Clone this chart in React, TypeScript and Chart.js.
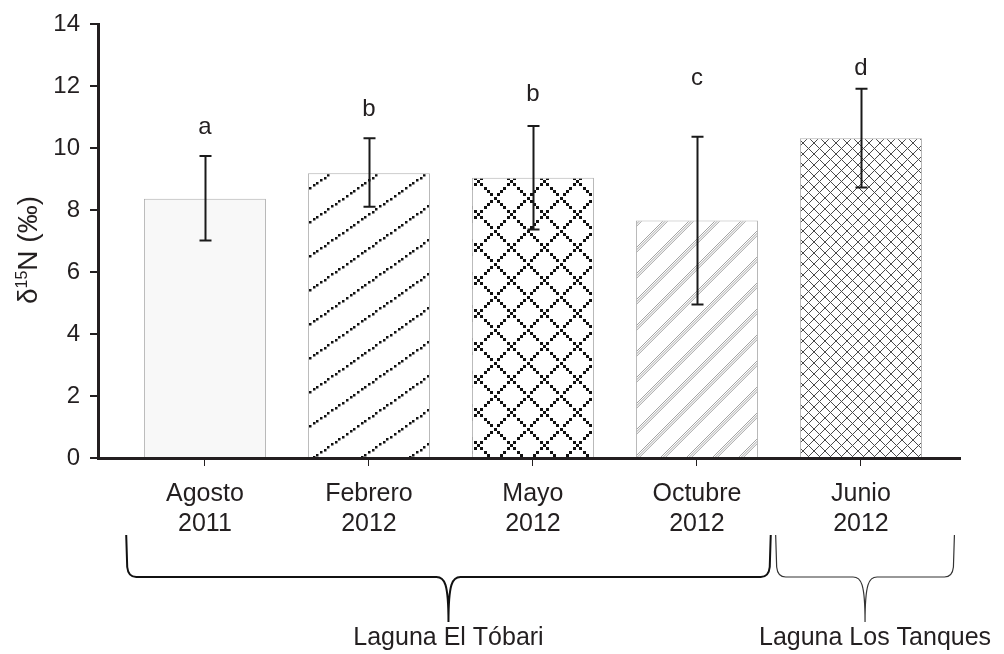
import React, { useEffect, useRef } from "react";
import { Chart, registerables } from "chart.js";

Chart.register(...registerables);

// ---- data ----
const categories: string[][] = [
  ["Agosto", "2011"],
  ["Febrero", "2012"],
  ["Mayo", "2012"],
  ["Octubre", "2012"],
  ["Junio", "2012"],
];
const means = [8.37, 9.19, 9.05, 7.67, 10.32];
const errHigh = [9.75, 10.32, 10.72, 10.37, 11.92];
const errLow = [7.02, 8.11, 7.38, 4.96, 8.73];
const letters = ["a", "b", "b", "c", "d"];
const letterBase = [10.46, 11.04, 11.52, 12.05, 12.37];
const yTicks = [0, 2, 4, 6, 8, 10, 12, 14];
const groupNames = ["Laguna El Tóbari", "Laguna Los Tanques"];
const groupFrom = [-0.48, 3.48];
const groupTo = [3.45, 4.57];
const X_MIN = -0.652;
const X_MAX = 4.604;

const FONT = '"Liberation Sans", Arial, Helvetica, sans-serif';
const INK = "#231f20";

function makeTile(w: number, h: number, draw: (c: CanvasRenderingContext2D) => void) {
  const cv = document.createElement("canvas");
  cv.width = w;
  cv.height = h;
  const c = cv.getContext("2d")!;
  c.fillStyle = "#ffffff";
  c.fillRect(0, 0, w, h);
  draw(c);
  return cv;
}

function dotWrap(c: CanvasRenderingContext2D, x: number, y: number, s: number, w: number, h: number) {
  for (const dx of [-w, 0, w]) {
    for (const dy of [-h, 0, h]) {
      c.fillRect(Math.round(x + dx - s / 2), Math.round(y + dy - s / 2), s, s);
    }
  }
}

function buildPatterns(ctx: CanvasRenderingContext2D) {
  // Febrero: dotted rising diagonals
  const feb = makeTile(48, 34, (c) => {
    c.fillStyle = "#111";
    const n = 13;
    for (let i = 0; i < n; i++) {
      const t = i / n;
      dotWrap(c, t * 48, (1 - t) * 34, 2.5, 48, 34);
    }
  });
  // Mayo: dotted diamond lattice
  const may = makeTile(33, 33, (c) => {
    c.fillStyle = "#111";
    const n = 10;
    for (let i = 0; i < n; i++) {
      const t = i / n;
      dotWrap(c, t * 33, t * 33, 3, 33, 33);
      dotWrap(c, t * 33, (1 - t) * 33, 3, 33, 33);
    }
  });
  // Octubre: bands of fine gray diagonals
  const oct = makeTile(26, 26, (c) => {
    c.strokeStyle = "#8c8c8c";
    c.lineWidth = 0.8;
    for (const off of [0, 2.4, 4.8]) {
      for (const k of [-1, 0, 1, 2]) {
        const cc = off + k * 26;
        c.beginPath();
        c.moveTo(cc - 26, 26);
        c.lineTo(cc, 0);
        c.stroke();
      }
    }
  });
  // Junio: fine crosshatch
  const jun = makeTile(11, 11, (c) => {
    c.strokeStyle = "#4a4a4a";
    c.lineWidth = 1;
    c.beginPath();
    c.moveTo(0, 0);
    c.lineTo(11, 11);
    c.moveTo(11, 0);
    c.lineTo(0, 11);
    c.stroke();
  });
  return [
    "#f8f8f8",
    ctx.createPattern(feb, "repeat")!,
    ctx.createPattern(may, "repeat")!,
    ctx.createPattern(oct, "repeat")!,
    ctx.createPattern(jun, "repeat")!,
  ];
}

const overlay = {
  id: "overlay",
  afterDraw(chart: any) {
    const ctx: CanvasRenderingContext2D = chart.ctx;
    const xs = chart.scales.x;
    const ys = chart.scales.y;
    ctx.save();

    // error bars
    ctx.strokeStyle = "#1a1a1a";
    ctx.lineWidth = 2;
    for (let i = 0; i < means.length; i++) {
      const x = Math.round(xs.getPixelForValue(i)) + 0.5;
      const yh = ys.getPixelForValue(errHigh[i]);
      const yl = ys.getPixelForValue(errLow[i]);
      ctx.beginPath();
      ctx.moveTo(x, yh);
      ctx.lineTo(x, yl);
      ctx.moveTo(x - 6, yh);
      ctx.lineTo(x + 6, yh);
      ctx.moveTo(x - 6, yl);
      ctx.lineTo(x + 6, yl);
      ctx.stroke();
    }

    // significance letters
    ctx.fillStyle = INK;
    ctx.font = `24px ${FONT}`;
    ctx.textAlign = "center";
    ctx.textBaseline = "alphabetic";
    for (let i = 0; i < letters.length; i++) {
      ctx.fillText(letters[i], xs.getPixelForValue(i), ys.getPixelForValue(letterBase[i]));
    }

    // y-axis title: δ15N (‰)
    const big = `28px ${FONT}`;
    const small = `16px ${FONT}`;
    ctx.font = big;
    const wD = ctx.measureText("δ").width;
    const wRest = ctx.measureText("N (‰)").width;
    ctx.font = small;
    const wS = ctx.measureText("15").width;
    const total = wD + wS + wRest;
    const cy = 250;
    ctx.save();
    ctx.translate(37, cy);
    ctx.rotate(-Math.PI / 2);
    ctx.textAlign = "left";
    let px = -total / 2;
    ctx.font = big;
    ctx.fillText("δ", px, 0);
    px += wD;
    ctx.font = small;
    ctx.fillText("15", px, -10);
    px += wS;
    ctx.font = big;
    ctx.fillText("N (‰)", px, 0);
    ctx.restore();

    // group braces
    const yTop = 535;
    const yMid = 577;
    const yTip = 622;
    for (let g = 0; g < groupNames.length; g++) {
      const x0 = xs.getPixelForValue(groupFrom[g]);
      const x1 = xs.getPixelForValue(groupTo[g]);
      const xm = (x0 + x1) / 2;
      ctx.strokeStyle = g === 0 ? "#111" : "#333";
      ctx.lineWidth = g === 0 ? 2 : 1.2;
      ctx.beginPath();
      ctx.moveTo(x0, yTop);
      ctx.lineTo(x0 + 1, yMid - 10);
      ctx.quadraticCurveTo(x0 + 2, yMid, x0 + 10, yMid);
      ctx.lineTo(xm - 12, yMid);
      ctx.bezierCurveTo(xm - 4, yMid, xm, yMid + 6, xm, yTip);
      ctx.bezierCurveTo(xm, yMid + 6, xm + 4, yMid, xm + 12, yMid);
      ctx.lineTo(x1 - 10, yMid);
      ctx.quadraticCurveTo(x1 - 2, yMid, x1 - 1, yMid - 10);
      ctx.lineTo(x1, yTop);
      ctx.stroke();
      ctx.fillStyle = INK;
      ctx.font = `25px ${FONT}`;
      ctx.textAlign = "center";
      ctx.fillText(groupNames[g], g === 1 ? xm + 10 : xm, 645);
    }
    ctx.restore();
  },
};

export default function App() {
  const ref = useRef<HTMLCanvasElement | null>(null);
  useEffect(() => {
    document.body.style.margin = "0";
    const canvas = ref.current!;
    const ctx = canvas.getContext("2d")!;
    const fills = buildPatterns(ctx);
    const chart = new Chart(ctx, {
      type: "bar",
      data: {
        datasets: [
          {
            data: means.map((v, i) => ({ x: i, y: v })),
            backgroundColor: fills as any,
            borderColor: "#b0b0b0",
            borderWidth: 1,
            barPercentage: 0.744,
            categoryPercentage: 1,
          },
        ],
      },
      options: {
        animation: false,
        responsive: false,
        devicePixelRatio: 1,
        layout: { padding: { top: 19, right: 44, left: 0, bottom: 0 } },
        plugins: { legend: { display: false }, tooltip: { enabled: false } },
        scales: {
          x: {
            type: "linear",
            min: X_MIN,
            max: X_MAX,
            offset: false,
            z: 1,
            afterBuildTicks: (s: any) => {
              s.ticks = categories.map((_, i) => ({ value: i }));
            },
            afterFit: (s: any) => {
              s.height = 196;
            },
            ticks: {
              autoSkip: false,
              maxRotation: 0,
              padding: 13,
              color: INK,
              font: { size: 25, family: FONT, lineHeight: 1.2 },
              callback: (_v: any, i: number) => categories[i],
            },
            grid: { offset: false, drawOnChartArea: false, drawTicks: true, tickLength: 8, color: INK, lineWidth: 1 },
            border: { display: true, color: INK, width: 3 },
          },
          y: {
            min: 0,
            max: 14,
            z: 1,
            afterBuildTicks: (s: any) => {
              s.ticks = yTicks.map((v) => ({ value: v }));
            },
            afterFit: (s: any) => {
              s.width = 98;
            },
            ticks: {
              padding: 10,
              color: INK,
              font: { size: 24, family: FONT },
            },
            grid: { drawOnChartArea: false, drawTicks: true, tickLength: 8, color: INK, lineWidth: 2 },
            border: { display: true, color: INK, width: 3 },
          },
        },
      } as any,
      plugins: [overlay],
    });
    return () => chart.destroy();
  }, []);
  return (
    <div style={{ width: 1004, height: 654, background: "#fff" }}>
      <canvas ref={ref} width={1004} height={654} style={{ display: "block" }} />
    </div>
  );
}
